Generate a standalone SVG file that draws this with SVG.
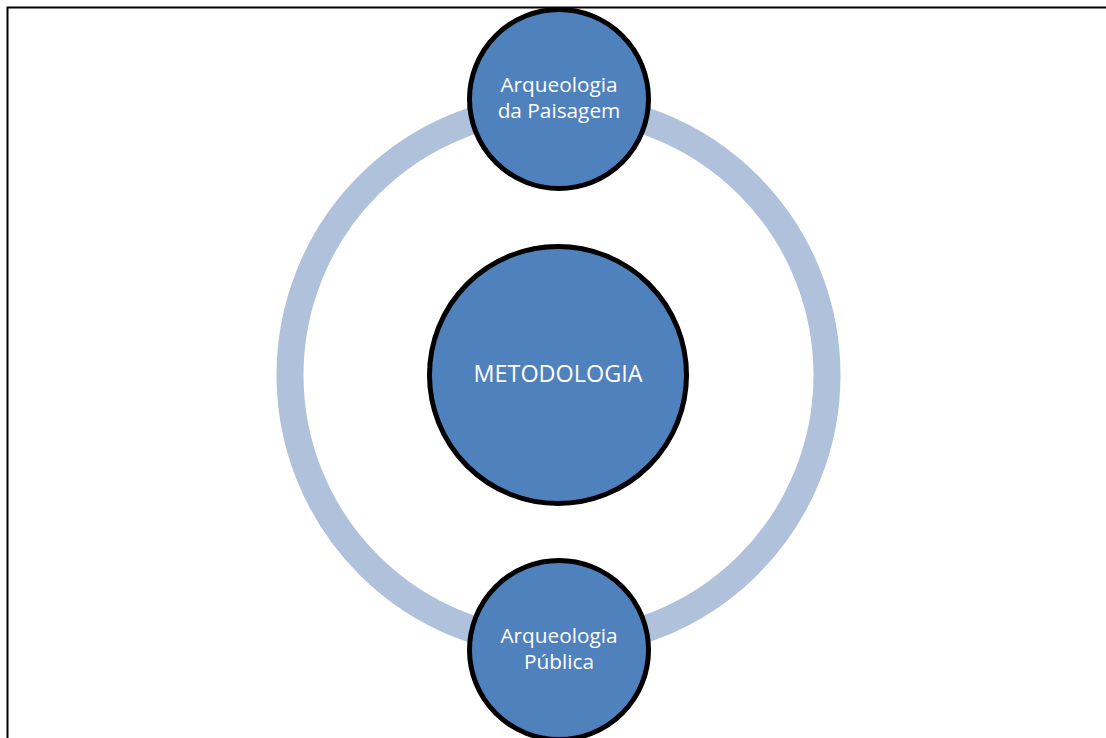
<svg xmlns="http://www.w3.org/2000/svg" width="1106" height="738" viewBox="0 0 1106 738">
<style>
.node{fill:#4f81bd;stroke:#000;stroke-width:5}
.lbl{fill:#fff;font-family:"Open Sans","Liberation Sans",sans-serif;font-size:20.8px;text-anchor:middle}
</style>
<rect width="1106" height="738" fill="#fff"/>
<rect x="7.5" y="7.5" width="1110" height="800" fill="none" stroke="#000" stroke-width="2"/>
<g id="connectors">
<circle cx="558.5" cy="375" r="268.5" fill="none" stroke="#b0c1dc" stroke-width="27"/>
</g>
<g id="node-metodologia">
<circle class="node" cx="558" cy="375" r="128.5"/>
<text class="lbl" x="558" y="382" style="font-size:23.4px">METODOLOGIA</text>
</g>
<g id="node-paisagem">
<circle class="node" cx="559" cy="99" r="89.5"/>
<text class="lbl" x="559" y="92">Arqueologia</text>
<text class="lbl" x="559" y="118">da Paisagem</text>
</g>
<g id="node-publica">
<circle class="node" cx="559" cy="650" r="89.5"/>
<text class="lbl" x="559" y="643">Arqueologia</text>
<text class="lbl" x="559" y="669">Pública</text>
</g>
</svg>
